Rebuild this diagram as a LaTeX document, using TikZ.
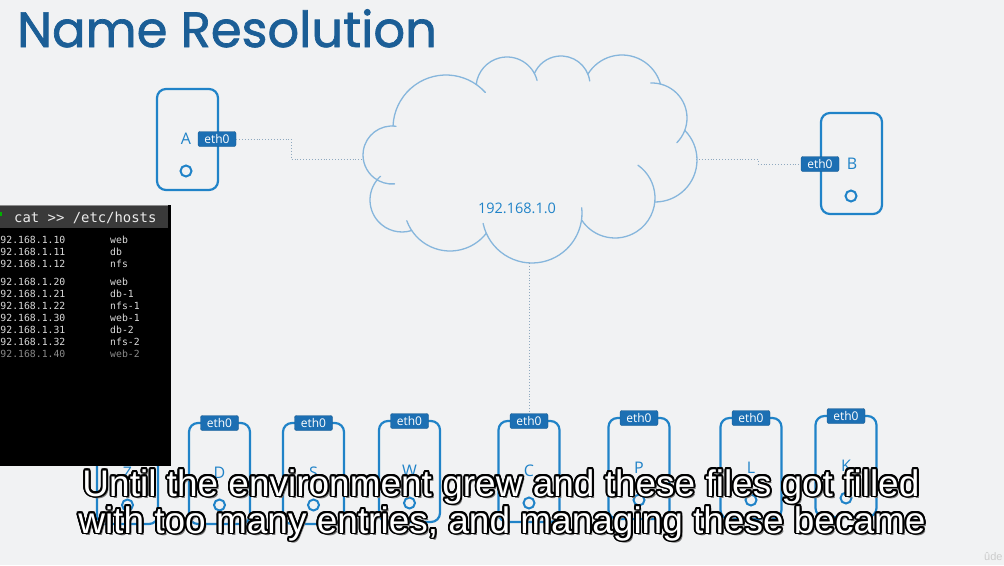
\documentclass[tikz,border=0pt]{standalone}
\usepackage{fontspec}
\setmainfont{Open Sans}
\newfontfamily\titlefont{Poppins}[FakeBold=1.4]
\newfontfamily\capfont{Liberation Sans}
\newfontfamily\termfont{DejaVu Sans Mono}
\usetikzlibrary{calc}

\definecolor{bgcol}{HTML}{F1F2F3}
\definecolor{titleblue}{HTML}{1B5E96}
\definecolor{hostblue}{HTML}{2083C8}
\definecolor{nicblue}{HTML}{1C6FB3}
\definecolor{cloudblue}{HTML}{86B6DC}
\definecolor{linkcol}{HTML}{8FA9BF}
\definecolor{termbar}{HTML}{3A3A3A}
\definecolor{termtext}{HTML}{DADADA}
\definecolor{termdim}{HTML}{8A8A8A}

\tikzset{
  host/.style={draw=hostblue, line width=2.2pt, rounded corners=9pt, fill=bgcol,
    minimum width=61, minimum height=101, inner sep=0pt, outer sep=0pt},
  hostname/.style={text=hostblue, font=\fontsize{16}{16}\selectfont, inner sep=0pt},
  port/.style={circle, draw=hostblue, line width=2pt, minimum size=11, inner sep=0pt},
  nic/.style={fill=nicblue, draw=nicblue!80!black, line width=0.4pt, text=white,
    rounded corners=2pt, inner sep=0pt, minimum width=38, minimum height=15,
    font=\fontsize{12}{12}\selectfont},
  link/.style={draw=linkcol, dotted, line width=0.9pt},
  bump/.style={draw=cloudblue, line width=1.3pt, line cap=round},
  termline/.style={anchor=base west, inner sep=0pt, text=termtext,
    font=\termfont\fontsize{9.8}{9.8}\selectfont},
  capline/.style={inner sep=0pt, anchor=base, font=\capfont\fontsize{37}{37}\selectfont},
}

% one subtitle line: black outline, grey shadow, white face
\newcommand{\capline}[3]{%
  \node[capline, text=black!55] (#1-shadow) at ($(#2)+(2.2,2.2)$) {#3};
  \foreach \ang in {0,22.5,...,337.5}
    \node[capline, text=black] (#1-rim-\ang) at ($(#2)+(\ang:1.9)$) {#3};
  \node[capline, text=white] (#1) at (#2) {#3};
}

\begin{document}
\begin{tikzpicture}[x=1pt, y=-1pt]
  \useasboundingbox (0,0) rectangle (1004,565);
  \clip (0,0) rectangle (1004,565);
  \fill[bgcol] (0,0) rectangle (1004,565);

  % heading
  \node[anchor=base west, inner sep=0pt, text=titleblue,
        font=\titlefont\fontsize{49.6}{49.6}\selectfont] (title) at (17,47) {Name Resolution};

  % anchor points on the cloud rim
  \coordinate (cloudW) at (364,159);
  \coordinate (cloudE) at (696,159);
  \coordinate (cloudS) at (529,263);

  % ---------------- host A ----------------
  \node[host] (A) at (187.5,139.5) {};
  \node[hostname] (A-name) at (186,139) {A};
  \node[port] (A-port) at (186,171) {};
  \node[nic] (A-eth) at (217,139) {eth0};

  % ---------------- host B ----------------
  \node[host] (B) at (851.5,163.5) {};
  \node[hostname] (B-name) at (852,164) {B};
  \node[port] (B-port) at (851,196) {};
  \node[nic] (B-eth) at (820,164) {eth0};

  % links to the network
  \draw[link] (A-eth.east) -- ++(55,0) |- (cloudW);
  \draw[link] (cloudE) -- ++(62,0) |- (B-eth.west);

  % ---------------- network cloud ----------------
  % each bump is a circular arc: centre x / centre y / radius / from / to (degrees)
  \foreach \cx/\cy/\r/\a/\b in {
      392/155/29/278/85,    402/200/32/228/72.4,  450/205/46/160/38,
      532/213/50/168/-6,    615/198/40/146.8/-55, 655/160/42/90.3/-45,
      652/118/35/45/-92,    622/95/40/-16/-148.6, 561/85/29/-8/-156.6,
      507/88/31/-14/-173.5, 446/128/53/-42/-177.8}
    \draw[bump] (\cx,\cy) ++(\a:\r) arc[start angle=\a, end angle=\b, radius=\r];
  \node[text=hostblue, font=\fontsize{14.5}{14.5}\selectfont] (net) at (517,208) {192.168.1.0};

  % ---------------- hosts on the lower row ----------------
  \foreach \n/\cx/\top in {Z/127.5/423, D/219.5/423, S/313.5/423, W/409.5/421,
                           C/529/421, P/639/418, L/751/418, K/846/416} {
    \node[host] (\n) at (\cx,\top+50.5) {};
    \node[hostname] (\n-name) at (\cx,\top+50) {\n};
    \node[port] (\n-port) at (\cx,\top+82) {};
    \node[nic] (\n-eth) at (\cx,\top) {eth0};
  }

  \draw[link] (cloudS) -- (C-eth.north);

  % ---------------- terminal window ----------------
  \node[fill=black, anchor=north west, inner sep=0pt, outer sep=0pt,
        minimum width=171, minimum height=261] (term) at (0,205) {};
  \node[fill=termbar, anchor=north west, inner sep=0pt, outer sep=0pt,
        minimum width=168, minimum height=23] (term-bar) at (0,205) {};
  \draw[black!45, line width=0.6pt] (term-bar.north west) -- (term-bar.north east);
  \node[fill=green!70!black, inner sep=0pt, minimum width=2.5, minimum height=4] (prompt) at (1,214) {};
  \node[anchor=base west, inner sep=0pt, text=white!92!black,
        font=\termfont\fontsize{13.9}{13.9}\selectfont] (cmd) at (14,222) {cat >> /etc/hosts};

  \foreach \i/\y/\ip/\nm in {1/243.5/192.168.1.10/web, 2/255.5/192.168.1.11/db,
                             3/267.5/192.168.1.12/nfs, 4/285.5/192.168.1.20/web,
                             5/297.5/192.168.1.21/db-1, 6/309.5/192.168.1.22/nfs-1,
                             7/321.5/192.168.1.30/web-1, 8/333.5/192.168.1.31/db-2,
                             9/345.5/192.168.1.32/nfs-2} {
    \node[termline] (ip-\i) at (-5.6,\y) {\ip};
    \node[termline] (nm-\i) at (110,\y) {\nm};
  }
  \node[termline, text=termdim] (ip-10) at (-5.6,357.5) {192.168.1.40};
  \node[termline, text=termdim] (nm-10) at (110,357.5) {web-2};

  % ---------------- subtitles ----------------
  \coordinate (cap1) at (501,496);
  \coordinate (cap2) at (502,533);
  \capline{capA}{cap1}{Until the environment grew and these files got filled}
  \capline{capB}{cap2}{with too many entries, and managing these became}

  % watermark
  \node[anchor=base west, inner sep=0pt, text=white!80!black,
        font=\capfont\fontsize{11}{11}\selectfont] (mark) at (984,560) {\^ude};
\end{tikzpicture}
\end{document}
